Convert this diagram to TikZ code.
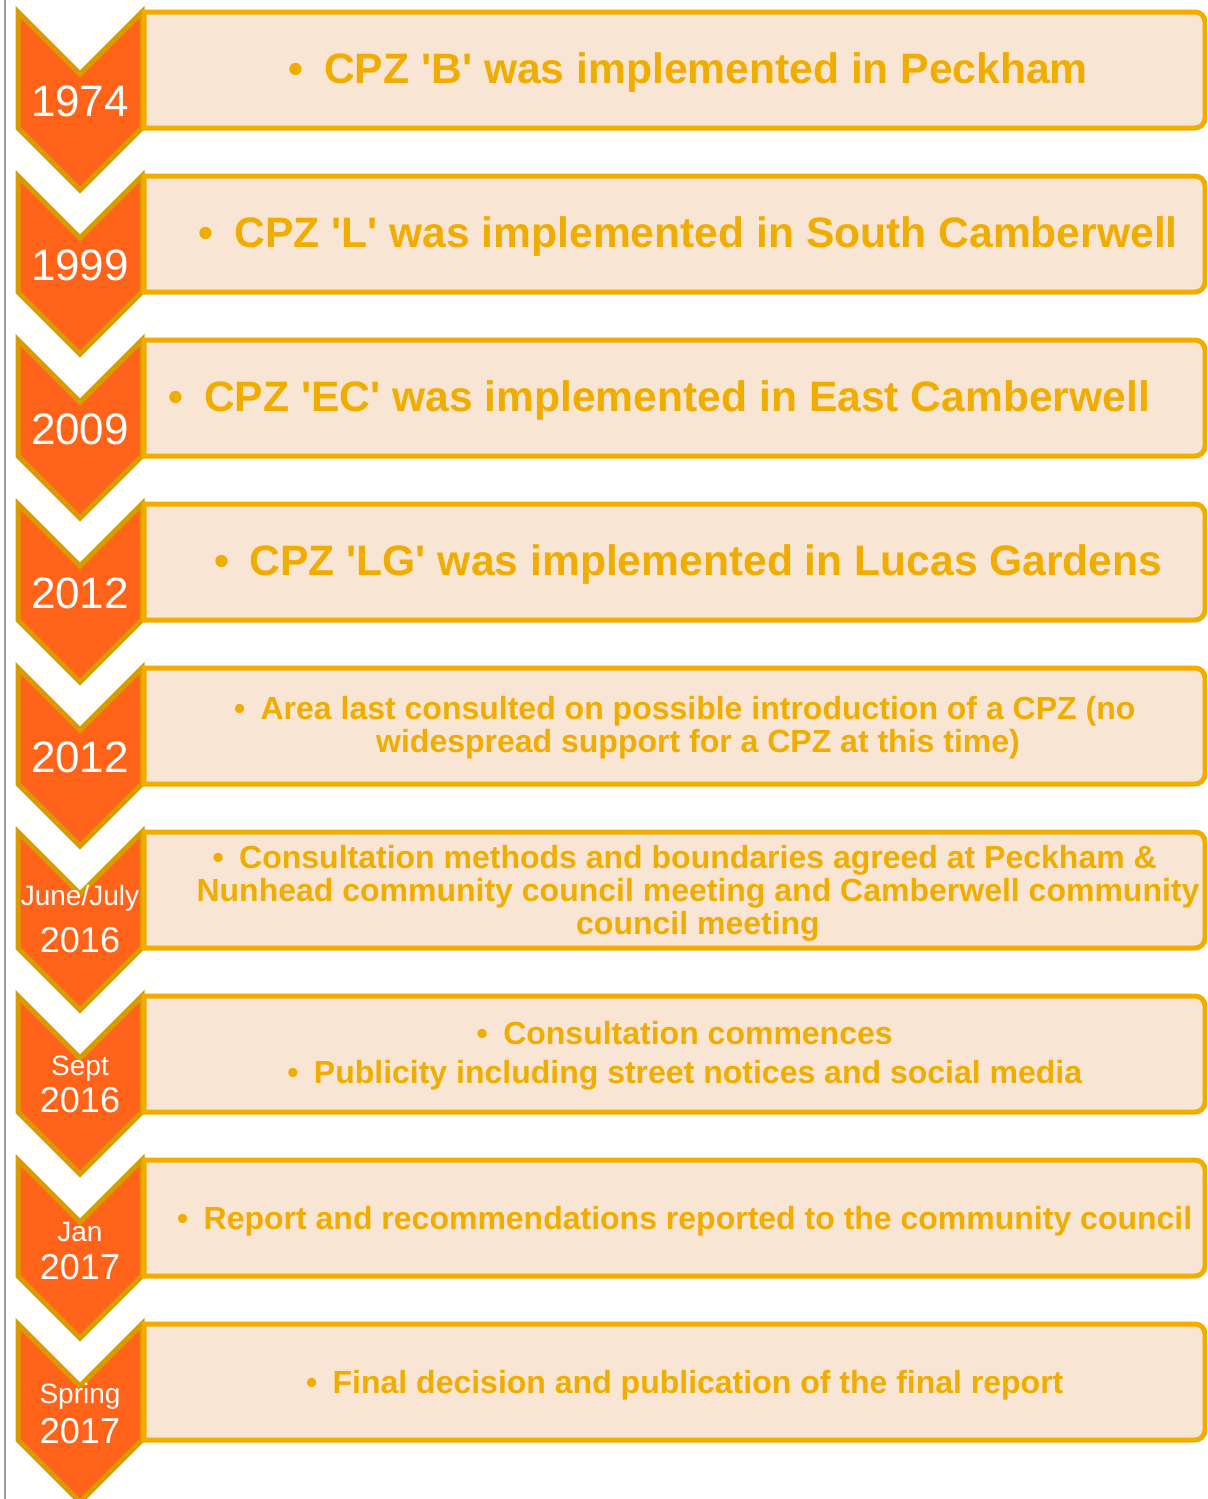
\documentclass[tikz,border=0pt]{standalone}
\usepackage{fontspec}
\setmainfont{Liberation Sans}
\usepackage{tikz}
\definecolor{chevorange}{RGB}{255,99,26}
\definecolor{chevgold}{RGB}{218,155,0}
\definecolor{boxpeach}{RGB}{249,229,211}
\definecolor{boxgold}{RGB}{240,173,0}
\definecolor{railgray}{RGB}{155,155,155}
\newcommand{\bul}{\llap{\textbullet\hspace{0.48em}}}
\newcommand{\qt}{\textquotesingle}

\begin{document}
\begin{tikzpicture}[x=0.5pt, y=-0.5pt,
    chevron/.style={fill=chevorange, draw=chevgold, line width=2.5pt, line join=miter},
    notebox/.style={fill=boxpeach, draw=boxgold, line width=2.5pt},
    yearbig/.style={anchor=base, text=white, inner sep=0pt, font=\fontsize{22}{26}\selectfont},
    yearsmall/.style={anchor=base, text=white, inner sep=0pt, font=\fontsize{18}{22}\selectfont},
    monthlbl/.style={anchor=base, text=white, inner sep=0pt, font=\fontsize{14}{17}\selectfont},
    notebig/.style={anchor=base, text=boxgold, inner sep=0pt, font=\bfseries\fontsize{21.3}{25}\selectfont},
    note/.style={text=boxgold, inner sep=0pt, align=center, font=\bfseries\fontsize{16}{16.5}\selectfont}]
  \clip (0,0) rectangle (1207,1499);

  % Left rule
  \draw[railgray, line width=1pt] (4.5,0) -- (4.5,1499);

  % Chevrons and boxes, one row every 164 px
  \foreach \i in {0,...,8} {
    \pgfmathsetmacro{\rowtop}{8+164*\i}
    \draw[chevron] (18,\rowtop+4) -- (80,\rowtop+66) -- (142,\rowtop+4)
      -- (142,\rowtop+120) -- (80,\rowtop+182) -- (18,\rowtop+120) -- cycle;
    \draw[notebox] (144,\rowtop+120) -- (144,\rowtop+4) -- (600,\rowtop+4)
      [rounded corners=5pt] -- (1205,\rowtop+4) -- (1205,\rowtop+120) -- (600,\rowtop+120)
      [sharp corners] -- cycle;
  }

  % Years
  \node[yearbig] (yr1) at (80,116) {1974};
  \node[yearbig] (yr2) at (80,280) {1999};
  \node[yearbig] (yr3) at (80,444) {2009};
  \node[yearbig] (yr4) at (80,608) {2012};
  \node[yearbig] (yr5) at (80,772) {2012};
  \node[monthlbl] (mo6) at (80,905) {June/July};
  \node[yearsmall] (yr6) at (80,952) {2016};
  \node[monthlbl] (mo7) at (80,1075) {Sept};
  \node[yearsmall] (yr7) at (80,1112) {2016};
  \node[monthlbl] (mo8) at (80,1241) {Jan};
  \node[yearsmall] (yr8) at (80,1279) {2017};
  \node[monthlbl] (mo9) at (80,1403) {Spring};
  \node[yearsmall] (yr9) at (80,1443) {2017};

  % Notes
  \node[notebig] (nt1) at (706,83) {\bul CPZ \qt B\qt{} was implemented in Peckham};
  \node[notebig] (nt2) at (706,247) {\bul CPZ \qt L\qt{} was implemented in South Camberwell};
  \node[notebig] (nt3) at (677,411) {\bul CPZ \qt EC\qt{} was implemented in East Camberwell};
  \node[notebig] (nt4) at (706,575) {\bul CPZ \qt LG\qt{} was implemented in Lucas Gardens};
  \node[note] (nt5) at (698,728) {\bul Area last consulted on possible introduction of a CPZ (no\\
    widespread support for a CPZ at this time)};
  \node[note] (nt6) at (698,893) {\bul Consultation methods and boundaries agreed at Peckham \&\\
    Nunhead community council meeting and Camberwell community\\council meeting};
  \node[note] (nt7) at (698,1056) {\bul Consultation commences\\[3pt]
    \bul Publicity including street notices and social media};
  \node[note, anchor=base] (nt8) at (698,1229) {\bul Report and recommendations reported to the community council};
  \node[note, anchor=base] (nt9) at (698,1393) {\bul Final decision and publication of the final report};
\end{tikzpicture}
\end{document}
